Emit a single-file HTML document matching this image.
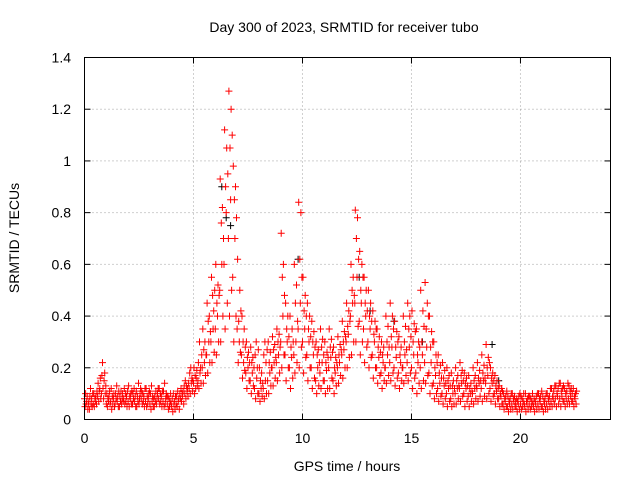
<!DOCTYPE html>
<html><head><meta charset="utf-8"><style>
body{margin:0;background:#fff;}
svg{display:block;font-family:"Liberation Sans",sans-serif;}
</style></head><body>
<svg id="chart" width="640" height="480">
<rect x="0" y="0" width="640" height="480" fill="#fff"/>
<g id="grid"></g>
<g id="ticks"></g>
<path id="black-pts" d="" stroke="#000" stroke-width="1" fill="none"/>
<path id="red-pts" d="" stroke="#f00" stroke-width="1" fill="none"/>
<rect x="84.5" y="57.5" width="526" height="362" fill="none" stroke="#000"/>
<text x="344" y="32" text-anchor="middle" font-size="14">Day 300 of 2023, SRMTID for receiver tubo</text>
<text x="347" y="471" text-anchor="middle" font-size="14">GPS time / hours</text>
<text transform="translate(19,238) rotate(-90)" text-anchor="middle" font-size="14">SRMTID / TECUs</text>
</svg>
<script>
const xTicks=[0,5,10,15,20];
const yTicks=[0,0.2,0.4,0.6,0.8,1,1.2,1.4];
const yTickLabels=["0","0.2","0.4","0.6","0.8","1","1.2","1.4"];
const startHour=0;
const stepHours=0.2;
const redValues=[
[0.08,0.05,0.1,0.06,0.07,0.09,0.04,0.06],[0.07,0.04,0.09,0.12,0.06,0.08,0.05,0.1],[0.06,0.1,0.05,0.08,0.07,0.09,0.06,0.11],[0.09,0.14,0.07,0.11,0.12,0.16,0.08,0.1],[0.17,0.22,0.12,0.08,0.15,0.18,0.1,0.13],
[0.06,0.1,0.05,0.08,0.07,0.09,0.11,0.06],[0.07,0.12,0.04,0.09,0.06,0.08,0.1,0.05],[0.06,0.1,0.08,0.13,0.07,0.09,0.05,0.11],[0.05,0.09,0.07,0.11,0.06,0.08,0.1,0.07],[0.08,0.12,0.06,0.1,0.07,0.09,0.05,0.11],
[0.07,0.13,0.05,0.09,0.08,0.1,0.06,0.11],[0.06,0.1,0.08,0.12,0.07,0.09,0.05,0.11],[0.05,0.09,0.07,0.14,0.06,0.08,0.1,0.12],[0.08,0.11,0.06,0.1,0.07,0.09,0.05,0.12],[0.07,0.12,0.05,0.09,0.06,0.08,0.1,0.11],
[0.06,0.1,0.04,0.13,0.07,0.09,0.05,0.08],[0.05,0.09,0.07,0.11,0.06,0.08,0.1,0.12],[0.08,0.12,0.06,0.1,0.07,0.09,0.05,0.11],[0.07,0.11,0.05,0.14,0.06,0.08,0.1,0.09],[0.06,0.09,0.04,0.08,0.05,0.07,0.1,0.06],
[0.05,0.08,0.03,0.1,0.06,0.07,0.04,0.09],[0.06,0.09,0.05,0.11,0.07,0.08,0.04,0.1],[0.08,0.12,0.07,0.1,0.09,0.11,0.06,0.13],[0.1,0.15,0.08,0.13,0.11,0.12,0.09,0.14],[0.12,0.18,0.1,0.2,0.14,0.16,0.11,0.15],
[0.14,0.2,0.1,0.17,0.12,0.16,0.19,0.13],[0.15,0.22,0.12,0.3,0.18,0.2,0.14,0.25],[0.2,0.35,0.14,0.27,0.22,0.3,0.17,0.25],[0.25,0.45,0.18,0.38,0.3,0.4,0.22,0.34],[0.3,0.55,0.22,0.48,0.35,0.42,0.26,0.5],
[0.35,0.6,0.25,0.45,0.4,0.52,0.3,0.48],[0.5,0.93,0.3,0.76,0.6,0.82,0.4,0.7],[0.6,1.12,0.35,0.9,0.8,1.05,0.45,0.95],[0.7,1.27,0.4,1.05,0.85,1.2,0.5,1.1],[0.55,0.98,0.3,0.85,0.7,0.9,0.4,0.78],
[0.35,0.62,0.22,0.38,0.3,0.5,0.26,0.42],[0.25,0.4,0.16,0.3,0.22,0.35,0.19,0.28],[0.18,0.3,0.12,0.24,0.2,0.26,0.15,0.22],[0.15,0.28,0.1,0.22,0.18,0.24,0.13,0.2],[0.12,0.25,0.08,0.3,0.16,0.2,0.1,0.27],
[0.1,0.2,0.07,0.15,0.12,0.18,0.09,0.14],[0.12,0.25,0.08,0.3,0.15,0.22,0.1,0.27],[0.15,0.3,0.1,0.22,0.18,0.26,0.13,0.2],[0.2,0.32,0.13,0.27,0.22,0.29,0.16,0.24],[0.22,0.35,0.15,0.3,0.25,0.33,0.18,0.28],
[0.3,0.72,0.2,0.55,0.4,0.6,0.25,0.48],[0.25,0.45,0.15,0.35,0.3,0.4,0.2,0.32],[0.2,0.4,0.12,0.28,0.24,0.35,0.16,0.3],[0.25,0.6,0.18,0.45,0.3,0.52,0.22,0.38],[0.35,0.84,0.2,0.62,0.45,0.8,0.28,0.55],
[0.3,0.55,0.18,0.42,0.35,0.48,0.24,0.4],[0.25,0.45,0.15,0.35,0.3,0.4,0.2,0.32],[0.2,0.38,0.12,0.3,0.25,0.34,0.16,0.28],[0.15,0.3,0.1,0.25,0.2,0.27,0.13,0.22],[0.18,0.35,0.12,0.28,0.22,0.31,0.15,0.25],
[0.15,0.3,0.1,0.22,0.19,0.26,0.12,0.24],[0.2,0.35,0.12,0.28,0.24,0.31,0.16,0.26],[0.15,0.28,0.1,0.2,0.18,0.24,0.13,0.22],[0.2,0.32,0.14,0.25,0.22,0.29,0.17,0.27],[0.25,0.38,0.16,0.3,0.27,0.34,0.2,0.32],
[0.3,0.45,0.2,0.36,0.33,0.42,0.24,0.38],[0.4,0.6,0.25,0.5,0.45,0.55,0.3,0.48],[0.45,0.81,0.3,0.7,0.55,0.78,0.36,0.62],[0.38,0.65,0.25,0.5,0.45,0.6,0.3,0.55],[0.35,0.55,0.22,0.45,0.4,0.5,0.28,0.42],
[0.3,0.5,0.2,0.4,0.35,0.45,0.24,0.38],[0.25,0.42,0.16,0.33,0.3,0.38,0.2,0.35],[0.2,0.35,0.14,0.28,0.24,0.32,0.17,0.26],[0.18,0.3,0.12,0.25,0.22,0.28,0.15,0.2],[0.2,0.4,0.14,0.3,0.25,0.36,0.17,0.28],
[0.22,0.45,0.15,0.32,0.28,0.4,0.18,0.35],[0.2,0.38,0.13,0.28,0.24,0.34,0.16,0.3],[0.18,0.32,0.12,0.25,0.22,0.28,0.15,0.2],[0.2,0.4,0.14,0.3,0.25,0.36,0.17,0.27],[0.22,0.45,0.15,0.35,0.28,0.4,0.18,0.32],
[0.2,0.42,0.12,0.3,0.25,0.37,0.16,0.34],[0.18,0.35,0.1,0.25,0.22,0.3,0.14,0.28],[0.2,0.5,0.12,0.3,0.25,0.42,0.15,0.36],[0.22,0.53,0.14,0.35,0.28,0.45,0.17,0.4],[0.18,0.4,0.1,0.28,0.22,0.34,0.13,0.3],
[0.14,0.3,0.08,0.2,0.17,0.25,0.1,0.22],[0.12,0.25,0.07,0.18,0.14,0.21,0.09,0.16],[0.1,0.22,0.06,0.16,0.13,0.19,0.08,0.14],[0.1,0.2,0.05,0.15,0.12,0.17,0.07,0.13],[0.08,0.18,0.05,0.13,0.1,0.15,0.06,0.12],
[0.1,0.2,0.06,0.15,0.12,0.17,0.08,0.13],[0.12,0.22,0.07,0.17,0.14,0.19,0.09,0.15],[0.1,0.18,0.05,0.14,0.12,0.16,0.07,0.13],[0.09,0.17,0.05,0.12,0.1,0.14,0.07,0.11],[0.1,0.2,0.06,0.15,0.12,0.17,0.08,0.13],
[0.12,0.22,0.07,0.16,0.14,0.19,0.09,0.15],[0.12,0.25,0.07,0.18,0.15,0.21,0.09,0.16],[0.14,0.29,0.08,0.2,0.17,0.24,0.1,0.22],[0.12,0.2,0.07,0.16,0.14,0.18,0.09,0.15],[0.1,0.17,0.06,0.13,0.11,0.15,0.08,0.12],
[0.08,0.13,0.05,0.1,0.09,0.12,0.06,0.11],[0.06,0.1,0.04,0.08,0.07,0.09,0.05,0.11],[0.05,0.09,0.03,0.07,0.06,0.08,0.04,0.1],[0.06,0.1,0.04,0.08,0.07,0.09,0.05,0.07],[0.05,0.08,0.03,0.07,0.06,0.09,0.04,0.1],
[0.06,0.09,0.04,0.08,0.05,0.07,0.1,0.06],[0.05,0.1,0.03,0.07,0.06,0.08,0.04,0.09],[0.06,0.09,0.04,0.08,0.05,0.07,0.1,0.06],[0.05,0.08,0.03,0.07,0.06,0.09,0.04,0.1],[0.06,0.1,0.04,0.08,0.07,0.09,0.05,0.11],
[0.05,0.09,0.03,0.07,0.06,0.08,0.04,0.1],[0.06,0.1,0.04,0.08,0.07,0.09,0.05,0.12],[0.07,0.12,0.05,0.09,0.08,0.11,0.06,0.13],[0.08,0.13,0.05,0.1,0.09,0.12,0.06,0.14],[0.08,0.14,0.05,0.11,0.09,0.12,0.07,0.13],
[0.07,0.12,0.05,0.1,0.08,0.11,0.06,0.14],[0.08,0.13,0.06,0.11,0.09,0.12,0.07,0.1],[0.07,0.12,0.05,0.09,0.08,0.1,0.06,0.11]
];
const blackHours=[6.3,6.5,6.7,9.8,12.6,13.1,14.2,15.5,18.7,19.0];
const blackValues=[0.9,0.78,0.75,0.62,0.55,0.42,0.38,0.3,0.29,0.15];
const X0=84.5,X1=610.5,XMAX=24.13,Y0=419.5,Y1=57.5,YMAX=1.4;
function xs(h){return X0+(h/XMAX)*(X1-X0);}
function ys(v){return Y0-(v/YMAX)*(Y0-Y1);}
const NS="http://www.w3.org/2000/svg";
const grid=document.getElementById('grid'),ticks=document.getElementById('ticks');
function mk(tag,attrs,parent){const e=document.createElementNS(NS,tag);for(const k in attrs)e.setAttribute(k,attrs[k]);parent.appendChild(e);return e;}
xTicks.forEach(t=>{const x=xs(t);
 const g=mk('line',{x1:x,x2:x,y1:Y1,y2:Y0,stroke:'#a0a0a0','stroke-dasharray':'1,3'},grid);
 
 
 mk('line',{x1:x,x2:x,y1:Y0,y2:Y0-6,stroke:'#000'},ticks);
 mk('line',{x1:x,x2:x,y1:Y1,y2:Y1+6,stroke:'#000'},ticks);
 const l=mk('text',{x:x,y:443,'text-anchor':'middle','font-size':14},ticks);l.textContent=t;
 
 
});
yTicks.forEach((t,i)=>{const y=ys(t);
 const g=mk('line',{x1:X0,x2:X1,y1:y,y2:y,stroke:'#a0a0a0','stroke-dasharray':'1,3'},grid);
 
 
 mk('line',{x1:X0,x2:X0+6,y1:y,y2:y,stroke:'#000'},ticks);
 mk('line',{x1:X1,x2:X1-6,y1:y,y2:y,stroke:'#000'},ticks);
 const l=mk('text',{x:71,y:y+5,'text-anchor':'end','font-size':14},ticks);l.textContent=yTickLabels[i];
 
 
});
function plus(x,y){return `M${(x-3.5).toFixed(1)} ${y.toFixed(1)}h7M${x.toFixed(1)} ${(y-3.5).toFixed(1)}v7`;}
let d='';
redValues.forEach((grp,i)=>{grp.forEach((v,j)=>{const h=startHour+i*stepHours+j*stepHours/grp.length;d+=plus(xs(h),ys(v));});});
document.getElementById('red-pts').setAttribute('d',d);
let b='';
blackHours.forEach((h,i)=>{b+=plus(xs(h),ys(blackValues[i]));});
document.getElementById('black-pts').setAttribute('d',b);
</script>
</body></html>
